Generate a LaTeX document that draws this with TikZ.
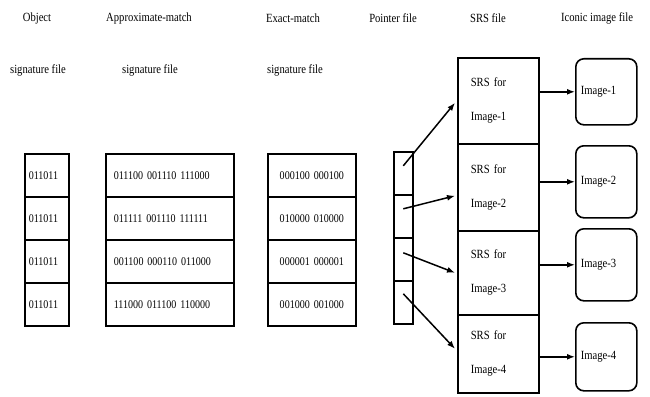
\documentclass[tikz,border=0pt]{standalone}
\usepackage{fontspec}
\setmainfont{Liberation Serif}[FakeStretch=0.85]
\usetikzlibrary{arrows.meta}
\begin{document}
\begin{tikzpicture}[x=1pt,y=-1pt,line width=1.6pt,
  every node/.style={font=\fontsize{12.5}{14}\selectfont},
  hdr/.style={inner sep=0pt},
  cellbase/.style={draw,rectangle,anchor=north west,inner ysep=0pt,minimum height=43pt,font=\fontsize{11.8}{13}\selectfont},
  objcell/.style={cellbase,inner xsep=4pt,text width=36pt,align=left},
  apxcell/.style={cellbase,inner xsep=8pt,text width=112pt,align=left},
  exccell/.style={cellbase,inner xsep=4pt,text width=80pt,align=center},
  ptrcell/.style={draw,rectangle,anchor=north west,inner sep=0pt,minimum width=19pt,minimum height=43pt},
  srsbox/.style={draw,rectangle,anchor=north west,inner ysep=0pt,inner xsep=13pt,text width=55pt,align=left},
  imgbox/.style={draw,rectangle,rounded corners=8pt,anchor=north west,inner ysep=0pt,inner xsep=5pt,text width=51pt,minimum width=61pt,align=left},
  arr/.style={-{Latex[length=8pt,width=6pt]},line width=1.5pt}]
\useasboundingbox (0,0) rectangle (650,396);
% headers
\node[hdr] (h1) at (37,18) {Object};
\node[hdr] (h2) at (149,18) {Approximate-match};
\node[hdr] (h3) at (293,18) {Exact-match};
\node[hdr] (h4) at (393,18) {Pointer file};
\node[hdr] (h5) at (488,18) {SRS file};
\node[hdr] (h6) at (597,18) {Iconic image file};
\node[hdr] (g1) at (38,70) {signature file};
\node[hdr] (g2) at (150,70) {signature file};
\node[hdr] (g3) at (295,70) {signature file};
% object signature file
\node[objcell] (o1) at (24,153) {011011};
\node[objcell] (o2) at (24,196) {011011};
\node[objcell] (o3) at (24,239) {011011};
\node[objcell] (o4) at (24,282) {011011};
% approximate-match
\node[apxcell] (a1) at (105,153) {011100 001110 111000};
\node[apxcell] (a2) at (105,196) {011111 001110 111111};
\node[apxcell] (a3) at (105,239) {001100 000110 011000};
\node[apxcell] (a4) at (105,282) {111000 011100 110000};
% exact-match
\node[exccell] (e1) at (267,153) {000100 000100};
\node[exccell] (e2) at (267,196) {010000 010000};
\node[exccell] (e3) at (267,239) {000001 000001};
\node[exccell] (e4) at (267,282) {001000 001000};
% pointer file
\node[ptrcell] (p1) at (393,151) {};
\node[ptrcell] (p2) at (393,194) {};
\node[ptrcell] (p3) at (393,237) {};
\node[ptrcell] (p4) at (393,280) {};
% SRS file
\node[srsbox,minimum height=86pt] (s1) at (457,57) {SRS for\\[20pt]Image-1};
\node[srsbox,minimum height=87pt] (s2) at (457,143) {SRS for\\[20pt]Image-2};
\node[srsbox,minimum height=84pt] (s3) at (457,230) {SRS for\\[20pt]Image-3};
\node[srsbox,minimum height=78pt] (s4) at (457,314) {SRS for\\[20pt]Image-4};
% iconic image file
\node[imgbox,minimum height=66pt] (i1) at (575,58) {Image-1};
\node[imgbox,minimum height=72pt] (i2) at (575,145) {Image-2};
\node[imgbox,minimum height=72pt] (i3) at (575,228) {Image-3};
\node[imgbox,minimum height=68pt] (i4) at (575,322) {Image-4};
% pointer arrows
\draw[arr] ([yshift=7.5pt]p1.center) -- ([yshift=-2pt,xshift=-2pt]s1.west);
\draw[arr] ([yshift=7.5pt]p2.center) -- ([yshift=-8.5pt,xshift=-2pt]s2.west);
\draw[arr] ([yshift=6.5pt]p3.center) -- ([xshift=-2pt]s3.west);
\draw[arr] ([yshift=8.5pt]p4.center) -- ([yshift=5pt,xshift=-2pt]s4.west);
% SRS to image arrows
\draw[arr] (s1.east |- i1.west) -- (i1.west);
\draw[arr] (s2.east |- i2.west) -- (i2.west);
\draw[arr] (s3.east |- i3.west) -- (i3.west);
\draw[arr] (s4.east |- i4.west) -- (i4.west);
\end{tikzpicture}
\end{document}
